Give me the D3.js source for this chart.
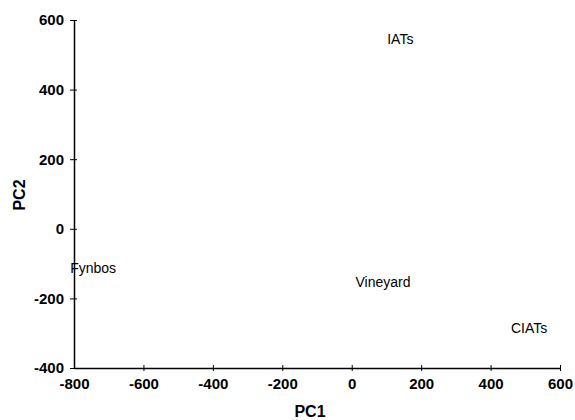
<!DOCTYPE html>
<html>
<head>
<meta charset="utf-8">
<script src="https://cdn.jsdelivr.net/npm/d3@7"></script>
<style>
  body { margin: 0; background: #fff; }
  text { font-family: "Liberation Sans", Arial, sans-serif; fill: #000; }
  .tick-label { font-size: 15px; font-weight: bold; }
  .axis-title { font-size: 16px; font-weight: bold; }
  .point-label { font-size: 14px; }
</style>
</head>
<body>
<div data-viz="wrapper"></div>
<script>
// Sites placed on the first two principal components
const sites = ["IATs", "Vineyard", "CIATs", "Fynbos"]
const pc1Values = [140, 90, 511, -745]
const pc2Values = [545, -153, -285, -113]

const xTicks = [-800, -600, -400, -200, 0, 200, 400, 600]
const yTicks = [-400, -200, 0, 200, 400, 600]

const data = sites.map((name, i) => ({ name, pc1: pc1Values[i], pc2: pc2Values[i] }))

const dimensions = {
  width: 575,
  height: 420,
  margin: { top: 20, right: 15, bottom: 52, left: 74 },
}
dimensions.boundedWidth = dimensions.width - dimensions.margin.left - dimensions.margin.right
dimensions.boundedHeight = dimensions.height - dimensions.margin.top - dimensions.margin.bottom

const xScale = d3.scaleLinear()
  .domain([-800, 600])
  .range([0, 486])
const yScale = d3.scaleLinear()
  .domain([-400, 600])
  .range([348, 0])

// plain hyphen for negatives, like the original
const tickFormat = d => String(d)

const svg = d3.select("[data-viz='wrapper']").append("svg")
    .attr("width", dimensions.width)
    .attr("height", dimensions.height)

const bounds = svg.append("g")
    .attr("transform", `translate(${dimensions.margin.left},${dimensions.margin.top})`)

// Axes, with small ticks crossing the axis line
const yAxis = bounds.append("g")
    .call(d3.axisLeft(yScale).tickValues(yTicks).tickFormat(tickFormat)
      .tickSize(0).tickPadding(10).tickSizeOuter(0))
yAxis.select(".domain").attr("stroke", "#000").attr("stroke-width", 1.5)
yAxis.selectAll(".tick text").attr("class", "tick-label").attr("font-size", null).attr("font-family", null)
yAxis.selectAll(".tick").append("line")
    .attr("x1", -4).attr("x2", 3).attr("stroke", "#000")

const xAxis = bounds.append("g")
    .attr("transform", `translate(0,${yScale(-400)})`)
    .call(d3.axisBottom(xScale).tickValues(xTicks).tickFormat(tickFormat)
      .tickSize(0).tickPadding(10).tickSizeOuter(0))
xAxis.select(".domain").attr("stroke", "#000").attr("stroke-width", 1.5)
xAxis.selectAll(".tick text").attr("class", "tick-label").attr("font-size", null).attr("font-family", null)
xAxis.selectAll(".tick").filter(d => d !== -800).append("line")
    .attr("y1", -3).attr("y2", 3).attr("stroke", "#000")

// Axis titles
svg.append("text")
    .attr("class", "axis-title")
    .attr("x", 310)
    .attr("y", 417)
    .attr("text-anchor", "middle")
    .text("PC1")

svg.append("text")
    .attr("class", "axis-title")
    .attr("transform", "translate(25,195) rotate(-90)")
    .attr("text-anchor", "middle")
    .text("PC2")

// Site labels drawn at their scores
bounds.selectAll(".point-label")
  .data(data)
  .join("text")
    .attr("class", "point-label")
    .attr("x", d => xScale(d.pc1))
    .attr("y", d => yScale(d.pc2))
    .attr("text-anchor", "middle")
    .attr("dy", "0.36em")
    .text(d => d.name)
</script>
</body>
</html>
